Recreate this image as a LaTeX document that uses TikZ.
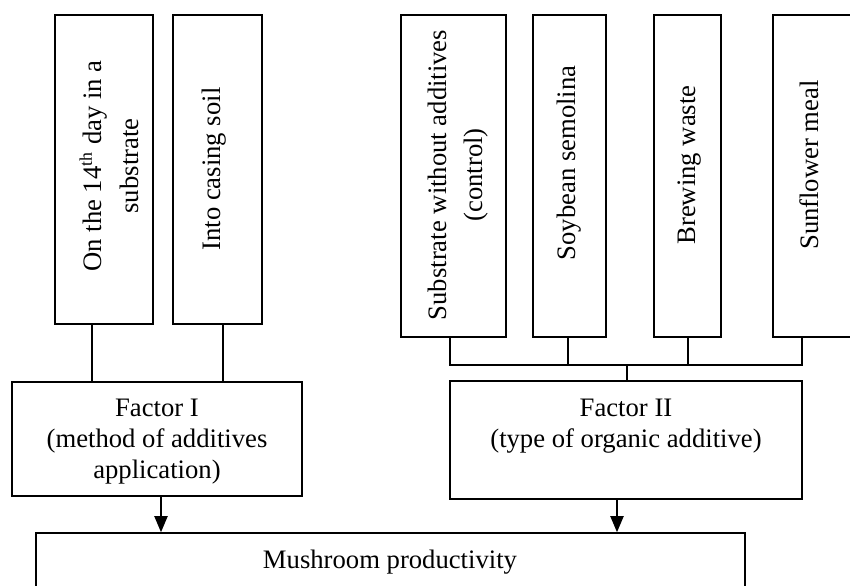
\documentclass[tikz,border=0pt]{standalone}
\usepackage{fontspec}
\setmainfont{Liberation Serif}
\usetikzlibrary{fit,arrows.meta}
\tikzset{
  box/.style={draw, line width=0.7pt, inner sep=0pt, fit={#1}},
  ftext/.style={inner sep=0pt, align=center, font=\fontsize{12}{13.8}\selectfont},
  vtext/.style={inner sep=0pt, align=center, rotate=90, font=\fontsize{12}{16.5}\selectfont},
  link/.style={line width=0.7pt},
  arr/.style={line width=0.7pt, -{Triangle[length=7.2pt,width=5.9pt]}}
}
\begin{document}
\begin{tikzpicture}[x=0.45pt,y=-0.45pt]
\useasboundingbox (0,0) rectangle (850,586);
\clip (0,0) rectangle (850,586);
% top boxes, left group
\node[box={(55,15) (153,324)}] (A) {};
\node[box={(173,15) (262,324)}] (B) {};
% top boxes, right group
\node[box={(401,15) (506,337)}] (C) {};
\node[box={(533,15) (606,337)}] (D) {};
\node[box={(654,15) (721,337)}] (E) {};
\node[box={(773,15) (858,337)}] (F) {};
% factor boxes
\node[box={(12,382) (302,496)}] (F1) {};
\node[box={(450,381) (802,499)}] (F2) {};
% result box
\node[box={(36,533) (745,592)}] (M) {};
% texts
\node[vtext] (tA) at (109,166) {On the 14\textsuperscript{th} day in a\\substrate};
\node[vtext] (tB) at (214,169) {Into casing soil};
\node[vtext] (tC) at (458,175) {Substrate without additives\\(control)};
\node[vtext] (tD) at (569,163) {Soybean semolina};
\node[vtext] (tE) at (690,165) {Brewing waste};
\node[vtext] (tF) at (809,165) {Sunflower meal};
\node[ftext, anchor=north] (tF1) at (157,399) {Factor I\\(method of additives\\application)};
\node[ftext, anchor=north] (tF2) at (626,399) {Factor II\\(type of organic additive)};
\node[ftext] (tM) at (390,562) {Mushroom productivity};
% connectors, left group
\draw[link] (A.south -| 92,0) -- (F1.north -| 92,0);
\draw[link] (B.south -| 223,0) -- (F1.north -| 223,0);
% connectors, right group
\coordinate (bus) at (627,365);
\draw[link] (C.south -| 450,0) -- (450,365) -- (802,365) -- (F.south -| 802,0);
\draw[link] (D.south -| 568,0) -- (568,365);
\draw[link] (E.south -| 688,0) -- (688,365);
\draw[link] (bus) -- (F2.north -| bus);
% arrows to result
\draw[arr] (F1.south -| 161,0) -- (M.north -| 161,0);
\draw[arr] (F2.south -| 617,0) -- (M.north -| 617,0);
\end{tikzpicture}
\end{document}
